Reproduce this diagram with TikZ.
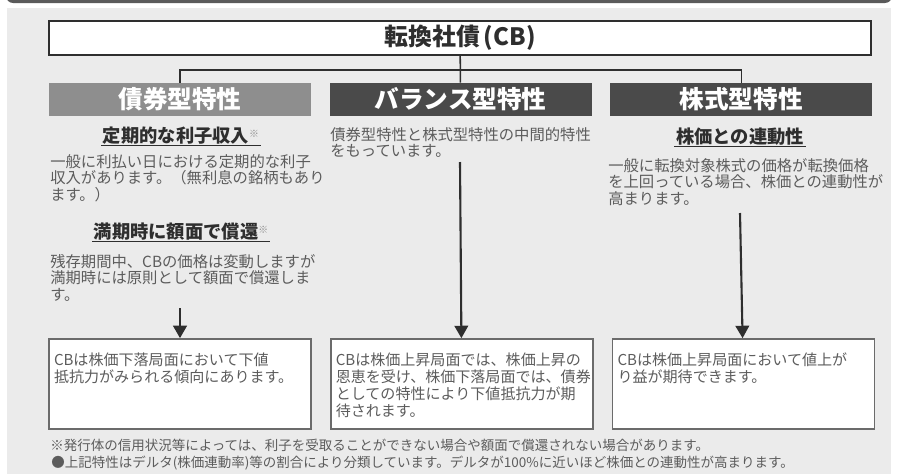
\documentclass[tikz,border=0pt]{standalone}
\usepackage{fontspec}
\setmainfont{Noto Sans CJK JP}
\usetikzlibrary{arrows.meta,positioning}
\definecolor{panel}{HTML}{EBEBEB}
\definecolor{framebar}{HTML}{5A5A5A}
\definecolor{ink}{HTML}{2E2E2E}
\definecolor{inksoft}{HTML}{5C5C5C}
\definecolor{bondhead}{HTML}{8E8E8E}
\definecolor{darkhead}{HTML}{4A4A4A}
\definecolor{boxline}{HTML}{6B6B6B}
\newcommand{\kome}{{\fontsize{7}{7}\selectfont\color{inksoft!70}\raisebox{0.45em}{※}}}

\begin{document}
\begin{tikzpicture}[x=0.025cm,y=-0.025cm,
    >={Triangle[length=3.1mm,width=3.4mm]},
    % --- boxes --------------------------------------------------------
    titlebox/.style={draw=ink,line width=1.6pt,fill=white,
                     minimum width=20.55cm,minimum height=0.85cm,inner sep=0pt,
                     font=\fontsize{17}{17}\selectfont\bfseries,text=ink},
    headbox/.style={minimum width=6.55cm,minimum height=0.825cm,inner sep=0pt,
                    font=\fontsize{17.5}{17.5}\selectfont\bfseries,text=white},
    lowbox/.style={draw=boxline,line width=1.2pt,fill=white,
                   minimum width=6.55cm,minimum height=2.25cm,inner sep=0pt},
    % --- texts --------------------------------------------------------
    subhead/.style={font=\fontsize{13}{13}\selectfont\bfseries,text=ink,
                    inner xsep=1pt,inner ysep=1pt,text height=0.88em,text depth=0.12em},
    bodytext/.style={anchor=north west,align=left,inner sep=0pt,text=inksoft,
                     font=\fontsize{10.9}{11.8}\selectfont},
    boxtext/.style={bodytext,font=\fontsize{10.7}{12.2}\selectfont},
    foot/.style={anchor=west,inner sep=0pt,text=inksoft,font=\fontsize{9.6}{9.6}\selectfont},
    % --- lines --------------------------------------------------------
    link/.style={draw=ink,line width=1.1pt},
    uline/.style={draw=ink,line width=0.9pt},
    arr/.style={draw=ink,line width=1.5pt,->},
  ]
\useasboundingbox (0,0) rectangle (898,474);
\clip (0,0) rectangle (898,474);

% ---- frame and panel ------------------------------------------------
\fill[framebar,rounded corners=5pt] (6,-20) rectangle (892,3);
\fill[panel] (7,8) rectangle (891,474);

% ---- title and branches ---------------------------------------------
\node[titlebox] (title) at (460,38) {転換社債\,(CB)};

\node[headbox,fill=bondhead] (hbond) at (180,99.5) {債券型特性};
\node[headbox,fill=darkhead,right=0.45cm of hbond] (hbal) {バランス型特性};
\node[headbox,fill=darkhead,right=0.45cm of hbal] (hstock) {株式型特性};

\coordinate (split) at (460,70);
\draw[link] (title) -- (hbal);
\draw[link] (hbond.north) |- (split) -| (hstock.north);

% ---- bond column ----------------------------------------------------
\node[subhead] (sub1) at (181,137) {定期的な利子収入\kome};
\draw[uline] (sub1.south west) -- (sub1.south east);
\node[bodytext] (body1) at (50,154)
  {一般に利払い日における定期的な利子\\
   収入があります。（無利息の銘柄もあり\\
   ます。）};

\node[subhead] (sub2) at (181,233) {満期時に額面で償還\kome};
\draw[uline] (sub2.south west) -- (sub2.south east);
\node[bodytext] (body2) at (50,254)
  {残存期間中、CBの価格は変動しますが\\
   満期時には原則として額面で償還しま\\
   す。};

% ---- balance column -------------------------------------------------
\node[bodytext] (body3) at (330,127)
  {債券型特性と株式型特性の中間的特性\\
   をもっています。};

% ---- stock column ---------------------------------------------------
\node[subhead] (sub3) at (740,138) {株価との連動性};
\draw[uline] (sub3.south west) -- (sub3.south east);
\node[bodytext] (body4) at (608,158)
  {一般に転換対象株式の価格が転換価格\\
   を上回っている場合、株価との連動性が\\
   高まります。};

% ---- result boxes ---------------------------------------------------
\node[lowbox] (lbox) at (180,384) {};
\node[lowbox,right=0.45cm of lbox] (mbox) {};
\node[lowbox,right=0.45cm of mbox] (rbox) {};

\node[boxtext] (ltext) at ([xshift=0.14cm,yshift=-0.35cm]lbox.north west)
  {CBは株価下落局面において下値\\
   抵抗力がみられる傾向にあります。};
\node[boxtext] (mtext) at ([xshift=0.14cm,yshift=-0.35cm]mbox.north west)
  {CBは株価上昇局面では、株価上昇の\\
   恩恵を受け、株価下落局面では、債券\\
   としての特性により下値抵抗力が期\\
   待されます。};
\node[boxtext] (rtext) at ([xshift=0.14cm,yshift=-0.35cm]rbox.north west)
  {CBは株価上昇局面において値上が\\
   り益が期待できます。};

\coordinate (la) at (180,308);
\coordinate (ma) at (460,162);
\coordinate (ra) at (740,213);
\draw[arr] (la) -- (lbox);
\draw[arr] (ma) -- (mbox);
\draw[arr] (ra) -- (rbox);

% ---- footnotes ------------------------------------------------------
\node[foot] (note1) at (50,445)
  {※発行体の信用状況等によっては、利子を受取ることができない場合や額面で償還されない場合があります。};
\node[foot] (note2) at (51,463)
  {●上記特性はデルタ(株価連動率)等の割合により分類しています。デルタが100\%に近いほど株価との連動性が高まります。};

\end{tikzpicture}
\end{document}
